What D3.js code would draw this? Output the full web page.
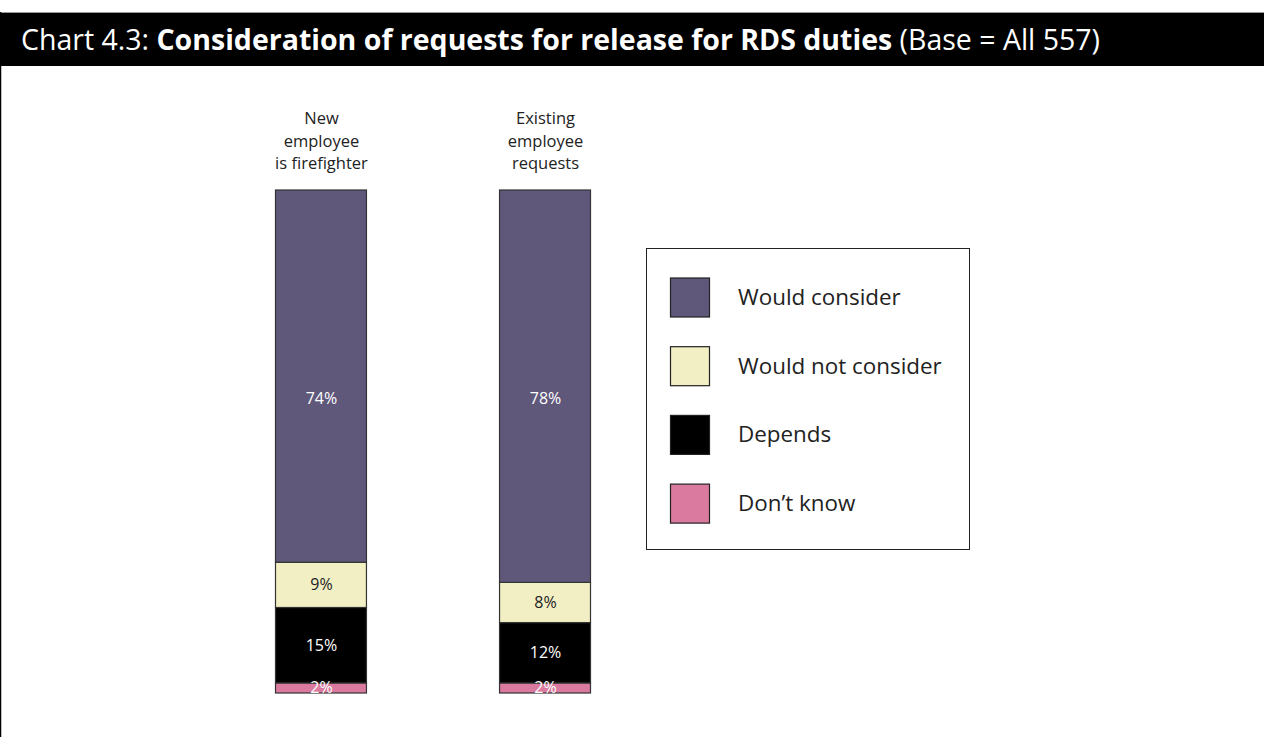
<!DOCTYPE html>
<html><head><meta charset="utf-8">
<script src="https://cdn.jsdelivr.net/npm/d3@7"></script>
<style>body{margin:0;background:#fff}svg{display:block}</style>
</head><body>
<svg id="c" width="1264" height="737"></svg>
<script>
const categories = [["New","employee","is firefighter"],["Existing","employee","requests"]];
const seriesNames = ["Would consider","Would not consider","Depends","Don\u2019t know"];
const wouldConsider = [74, 78];
const wouldNotConsider = [9, 8];
const depends = [15, 12];
const dontKnow = [2, 2];
const colors = ["#5f587a","#f2efc4","#000000","#d97a9e"];
const labelColors = ["#ffffff","#222222","#ffffff","#ffffff"];

const svg = d3.select("#c");
const font = "'Open Sans', 'Noto Sans', sans-serif";

// header
svg.append("line").attr("x1",0).attr("x2",1264).attr("y1",12.5).attr("y2",12.5).attr("stroke","#999").attr("stroke-width",1);
svg.append("rect").attr("x",0).attr("y",13).attr("width",1264).attr("height",53).attr("fill","#000");
svg.append("line").attr("x1",0.5).attr("x2",0.5).attr("y1",12).attr("y2",737).attr("stroke","#000").attr("stroke-width",1.5);
const t = svg.append("text").attr("x",21).attr("y",50).attr("fill","#fff")
  .attr("font-family",font).attr("font-size",28.5);
t.append("tspan").text("Chart 4.3: ");
t.append("tspan").attr("font-weight","bold").text("Consideration of requests for release for RDS duties");
t.append("tspan").text(" (Base = All 557)");

const data = categories.map((c,i)=>({cat:i, vals:[wouldConsider[i],wouldNotConsider[i],depends[i],dontKnow[i]]}));
const stack = d3.stack().keys([3,2,1,0]).value((d,k)=>d.vals[k]);
const layers = stack(data);

const x = d3.scaleBand().domain([0,1]).range([275,590]).paddingInner(0.594).paddingOuter(0);
const y = d3.scaleLinear().domain([0,100]).range([693,190]);

layers.forEach(layer=>{
  const k = layer.key;
  const g = svg.append("g");
  g.selectAll("rect").data(layer).join("rect")
    .attr("x",(d,i)=>x(i)+0.5).attr("width",x.bandwidth())
    .attr("y",d=>y(d[1])).attr("height",d=>y(d[0])-y(d[1]))
    .attr("fill",colors[k]).attr("stroke","#333").attr("stroke-width",1.2);
});
layers.forEach(layer=>{
  const k = layer.key;
  svg.append("g").selectAll("text").data(layer).join("text")
    .attr("x",(d,i)=>x(i)+x.bandwidth()/2+1)
    .attr("y",d=>k===0 ? y(58.5) : (y(d[0])+y(d[1]))/2 + (k===3?-1:0))
    .attr("dy","0.35em").attr("text-anchor","middle")
    .attr("font-family",font).attr("font-size",16).attr("fill",labelColors[k])
    .text((d,i)=>data[i].vals[k]+"%");
});

// category labels
categories.forEach((lines,i)=>{
  const tt = svg.append("text").attr("text-anchor","middle").attr("font-family",font)
    .attr("font-size",16.5).attr("fill","#222");
  lines.forEach((l,j)=>tt.append("tspan").attr("x",x(i)+x.bandwidth()/2+1).attr("y",124+j*22.5).text(l));
});

// legend
svg.append("rect").attr("x",646.5).attr("y",248.5).attr("width",323).attr("height",301)
  .attr("fill","#fff").attr("stroke","#222").attr("stroke-width",1);
seriesNames.forEach((n,i)=>{
  const yy = 278 + i*68.7;
  svg.append("rect").attr("x",670.5).attr("y",yy).attr("width",39).attr("height",39)
    .attr("fill",colors[i]).attr("stroke","#222").attr("stroke-width",1.2);
  svg.append("text").attr("x",738).attr("y",yy+19).attr("dy","0.35em")
    .attr("font-family",font).attr("font-size",22.4).attr("fill","#222").text(n);
});
</script>
</body></html>
